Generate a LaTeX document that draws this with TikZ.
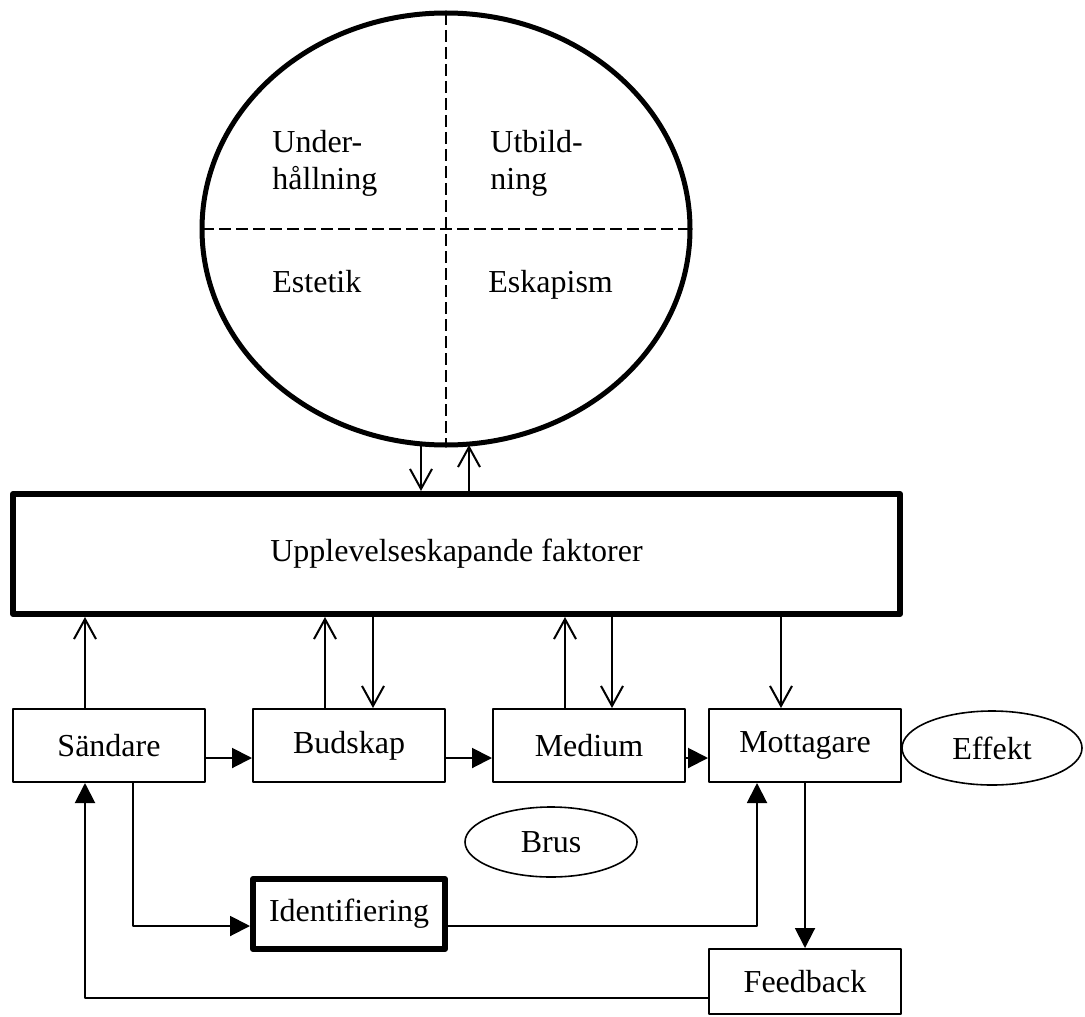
\documentclass[tikz,border=0pt]{standalone}
\usepackage{fontspec}
\setmainfont{Liberation Serif}
\usetikzlibrary{arrows.meta,shapes.geometric}
\begin{document}
\begin{tikzpicture}[x=0.5pt,y=-0.5pt,line join=round,
	every node/.style={font=\fontsize{16}{18.5}\selectfont},
	box/.style={draw,line width=1pt,minimum width=96pt,minimum height=36.5pt,inner sep=0pt},
	thickbox/.style={box,line width=3pt},
	oval/.style={draw,ellipse,line width=0.8pt,inner sep=0pt},
	quarter/.style={anchor=north west,align=left,inner sep=0pt},
	barb/.style={line width=1pt,-{Straight Barb[length=10pt,width=11pt]}},
	tri/.style={line width=1pt,-{Triangle[length=10pt,width=10pt]}}]
	\useasboundingbox (0,0) rectangle (1085,1016);
	%upplevelsecirkeln
	\node[draw,ellipse,line width=2.5pt,minimum width=244pt,minimum height=216pt,inner sep=0pt,outer sep=0pt] (circ) at (446,229) {};
	\draw[line width=0.6pt,dash pattern=on 6pt off 2.5pt] (circ.north)--(circ.south) (circ.west)--(circ.east);
	\node[quarter] (under) at (272,130) {Under-\\hållning};
	\node[quarter] (utb) at (490,130) {Utbild-\\ning};
	\node[anchor=base west,inner sep=0pt] (est) at (272,292) {Estetik};
	\node[anchor=base west,inner sep=0pt] (esk) at (488,292) {Eskapism};
	\node[thickbox,minimum width=443.5pt,minimum height=60pt] (upp) at (456.5,554) {Upplevelseskapande faktorer};
	\node[box] (sand) at (109,745.5) {Sändare};
	\node[box] (bud) at (349,745.5) {Budskap};
	\node[box] (med) at (589,745.5) {Medium};
	\node[box] (mott) at (805,745.5) {Mottagare};
	\node[oval,minimum width=90pt,minimum height=37pt] (eff) at (992,748) {Effekt};
	\node[oval,minimum width=86pt,minimum height=35pt] (brus) at (551,842) {Brus};
	\node[thickbox,minimum height=35pt] (ident) at (349,914) {Identifiering};
	\node[box,minimum height=32.5pt] (feed) at (805,981.5) {Feedback};
	%pilar
	\draw[barb] (circ.south -| 421,0)--(upp.north -| 421,0);
	\draw[barb] (upp.north -| 469,0)--(circ.south -| 469,0);
	\foreach \xa/\nd in {85/sand,325/bud,565/med}
	\draw[barb] (\nd.north -| \xa,0)--(upp.south -| \xa,0);
	\foreach \xa/\nd in {373/bud,612/med,781/mott}
	\draw[barb] (upp.south -| \xa,0)--(\nd.north -| \xa,0);
	\foreach \a/\b in {sand/bud,bud/med,med/mott}
	\draw[tri] (\a.east |- 0,758)--(\b.west |- 0,758);
	\draw[tri] (sand.south -| 133,0) |- (ident.west |- 0,926);
	\draw[tri] (ident.east |- 0,926) -| (mott.south -| 757,0);
	\draw[tri] (mott.south -| 805,0)--(feed.north);
	\draw[tri] (feed.west |- 0,998) -| (sand.south -| 85,0);
\end{tikzpicture}
\end{document}
